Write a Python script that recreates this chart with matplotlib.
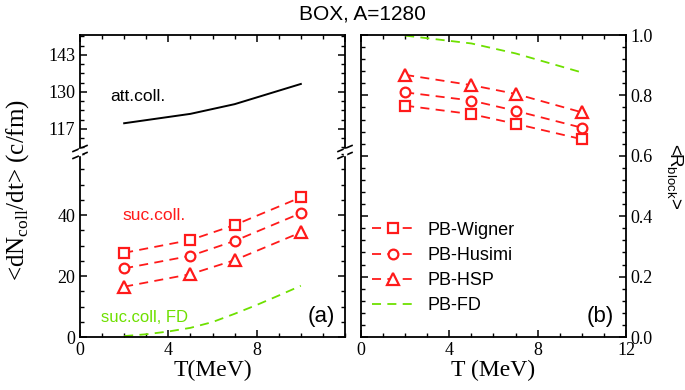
import matplotlib
matplotlib.use('Agg')
import matplotlib.pyplot as plt
from matplotlib.ticker import MultipleLocator
from matplotlib.lines import Line2D

# Data
T = [2, 5, 7, 10]

# (a) collision rates
att_coll = [119.0, 122.3, 125.7, 132.8]
suc_wigner = [27.6, 31.8, 36.7, 45.8]
suc_husimi = [22.5, 26.6, 31.5, 40.6]
suc_hsp = [16.5, 20.6, 25.2, 34.3]
T_fd = [2, 3, 4, 5, 6, 7, 8, 9, 10]
suc_fd = [0.3, 0.9, 1.8, 3.0, 4.9, 7.6, 10.5, 13.6, 16.8]

# (b) blocking
blk_wigner = [0.766, 0.738, 0.706, 0.655]
blk_husimi = [0.810, 0.783, 0.749, 0.693]
blk_hsp = [0.868, 0.834, 0.805, 0.744]
T_fd_b = [2, 5, 7, 10]
blk_fd = [0.998, 0.972, 0.939, 0.876]

RED = '#ff1a1a'
GREEN = '#6ee000'
SERIF = 'Liberation Serif'
SANS = 'Liberation Sans'

plt.rcParams.update({
    'font.family': SERIF,
    'xtick.direction': 'in',
    'ytick.direction': 'in',
    'xtick.major.size': 5,
    'ytick.major.size': 5,
    'xtick.minor.size': 3,
    'ytick.minor.size': 3,
    'axes.linewidth': 1.3,
    'xtick.major.width': 1.1,
    'ytick.major.width': 1.1,
    'xtick.minor.width': 1.0,
    'ytick.minor.width': 1.0,
})

W, H = 685, 390
fig = plt.figure(figsize=(W / 100, H / 100), dpi=100)


def rect(x0, y0, x1, y1):
    return [x0 / W, 1 - y1 / H, (x1 - x0) / W, (y1 - y0) / H]


ax_lo = fig.add_axes(rect(80, 152, 345, 337))
ax_hi = fig.add_axes(rect(80, 35, 345, 152))
ax_b = fig.add_axes(rect(361, 35, 626, 337))

dash = (5, 3.5)
mk = dict(markerfacecolor='white', markeredgecolor=RED, markeredgewidth=1.6, color=RED,
          lw=1.3, dashes=dash)

# ---- panel (a), lower part
ax_lo.plot(T, suc_wigner, marker='s', ms=6.5, **mk)
ax_lo.plot(T, suc_husimi, marker='o', ms=7, **mk)
ax_lo.plot(T, suc_hsp, marker='^', ms=8.5, **mk)
ax_lo.plot(T_fd, suc_fd, color=GREEN, lw=1.3, dashes=(5, 3.5))
ax_lo.set_xlim(0, 12)
ax_lo.set_ylim(0, 60.66)
ax_lo.set_xticks([0, 4, 8])
ax_lo.xaxis.set_minor_locator(MultipleLocator(1))
ax_lo.set_yticks([0, 20, 40])
ax_lo.yaxis.set_minor_locator(MultipleLocator(5))
ax_lo.spines['top'].set_visible(False)
ax_lo.tick_params(which='both', right=True, top=False, labelsize=13)
ax_lo.set_xlabel('T(MeV)', fontsize=17, labelpad=1)
ax_lo.text(1.93, 39.7, 'suc.coll.', color=RED, fontsize=12.5, family=SANS, va='center')
ax_lo.text(0.95, 6.5, 'suc.coll, FD', color=GREEN, fontsize=12, family=SANS, va='center')
ax_lo.text(11.55, 6.7, '(a)', fontsize=16, family=SANS, va='center', ha='right')

# ---- panel (a), upper part
ax_hi.plot(T, att_coll, color='black', lw=1.4)
ax_hi.set_xlim(0, 12)
ax_hi.set_ylim(108.9, 150.0)
ax_hi.set_yticks([117, 130, 143])
ax_hi.yaxis.set_minor_locator(MultipleLocator(3.25))
ax_hi.xaxis.set_minor_locator(MultipleLocator(1))
ax_hi.set_xticks([0, 4, 8, 12])
ax_hi.spines['bottom'].set_visible(False)
ax_hi.tick_params(which='both', right=True, top=True, bottom=False, labelbottom=False,
                  labelsize=13)
ax_hi.text(1.36, 128.5, 'att.coll.', fontsize=12.5, family=SANS, va='center')

# axis-break marks
for xp in (80, 345):
    x = xp / W
    y = 1 - 152 / H
    dx, dy = 7 / W, 3 / H
    for off in (-3.5 / H, 3.5 / H):
        fig.add_artist(Line2D([x - dx, x + dx], [y + off - dy, y + off + dy],
                              color='black', lw=1.2))
    fig.add_artist(Line2D([x, x], [y - 2 / H, y + 2 / H], color='white', lw=2.5))

fig.text(18 / W, 1 - 190 / H, r'<dN$_{\mathregular{coll}}$/dt> (c/fm)', rotation=90,
         fontsize=18, ha='center', va='center')

# ---- panel (b)
ax_b.plot(T, blk_wigner, marker='s', ms=6.5, label='PB-Wigner', **mk)
ax_b.plot(T, blk_husimi, marker='o', ms=7, label='PB-Husimi', **mk)
ax_b.plot(T, blk_hsp, marker='^', ms=8.5, label='PB-HSP', **mk)
ax_b.plot(T_fd_b, blk_fd, color=GREEN, lw=1.3, dashes=(5, 3.5), label='PB-FD')
ax_b.set_xlim(0, 12)
ax_b.set_ylim(0, 1.0)
ax_b.set_xticks([0, 4, 8, 12])
ax_b.xaxis.set_minor_locator(MultipleLocator(1))
ax_b.set_yticks([0, 0.2, 0.4, 0.6, 0.8, 1.0])
ax_b.set_yticklabels(['0.0', '0.2', '0.4', '0.6', '0.8', '1.0'])
ax_b.yaxis.set_minor_locator(MultipleLocator(0.04))
ax_b.tick_params(which='both', left=True, right=True, top=True, labelleft=False,
                 labelright=True, labelsize=13)
ax_b.set_xlabel('T (MeV)', fontsize=17, labelpad=1)
ax_b.text(11.45, 0.067, '(b)', fontsize=16, family=SANS, va='center', ha='right')
ax_b.legend(loc='lower left', bbox_to_anchor=(0.0, 0.04), frameon=False,
            prop={'family': SANS, 'size': 13}, handlelength=2.4, labelspacing=0.45,
            handletextpad=0.7, borderaxespad=0.2)

fig.text(674 / W, 1 - 176 / H, r'<R$_{\mathregular{block}}$>', rotation=-90,
         fontsize=13.5, family=SANS, ha='center', va='center')

fig.text(362 / W, 1 - 14 / H, 'BOX, A=1280', fontsize=15, family=SANS,
         ha='center', va='center')

fig.savefig('out.png', dpi=100)
